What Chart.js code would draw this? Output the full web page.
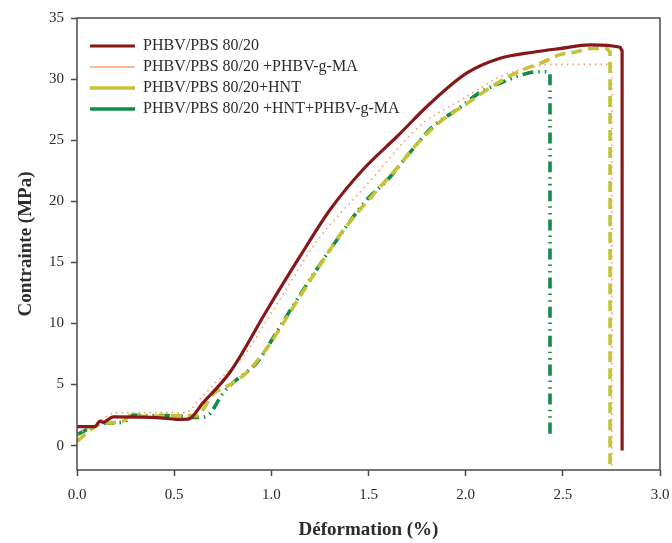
<!DOCTYPE html>
<html>
<head>
<meta charset="utf-8">
<script src="https://cdn.jsdelivr.net/npm/chart.js@4.4.1/dist/chart.umd.min.js"></script>
<style>
  html, body { margin: 0; padding: 0; background: #fff; }
  #wrap { width: 672px; height: 543px; }
</style>
</head>
<body>
<div id="wrap"><canvas id="chart"></canvas></div>
<script>
// series names (legend)
const seriesNames = [
  'PHBV/PBS 80/20',
  'PHBV/PBS 80/20 +PHBV-g-MA',
  'PHBV/PBS 80/20+HNT',
  'PHBV/PBS 80/20 +HNT+PHBV-g-MA'
];

// PHBV/PBS 80/20
const strainA = [0, 0.093, 0.118, 0.135, 0.187, 0.43, 0.51, 0.573, 0.648, 0.787, 0.978, 1.148, 1.302, 1.472, 1.647, 1.817, 2.007, 2.177, 2.347, 2.486, 2.64, 2.795, 2.805, 2.805];
const stressA = [1.55, 1.55, 2.0, 1.9, 2.35, 2.27, 2.15, 2.17, 3.5, 6.0, 11.1, 15.5, 19.3, 22.6, 25.3, 28.0, 30.5, 31.7, 32.2, 32.5, 32.8, 32.6, 32.3, -0.4];

// PHBV/PBS 80/20 +PHBV-g-MA
const strainB = [0, 0.1, 0.2, 0.56, 0.62, 0.71, 0.855, 0.978, 1.096, 1.215, 1.354, 1.42, 1.56, 1.678, 1.781, 1.955, 2.08, 2.177, 2.347, 2.43, 2.73, 2.752, 2.752];
const stressB = [0.9, 1.8, 2.7, 2.7, 3.6, 5.1, 7.3, 10.3, 13.3, 16.3, 19.0, 20.1, 22.6, 24.8, 26.4, 28.1, 29.3, 30.2, 31.0, 31.2, 31.2, 31.0, -2];

// PHBV/PBS 80/20+HNT
const strainC = [0, 0.084, 0.127, 0.238, 0.28, 0.33, 0.547, 0.616, 0.70, 0.80, 0.875, 0.983, 1.08, 1.179, 1.276, 1.374, 1.544, 1.652, 1.755, 1.884, 2.007, 2.136, 2.27, 2.40, 2.486, 2.563, 2.64, 2.728, 2.743, 2.743];
const stressC = [0.35, 1.45, 1.8, 2.0, 2.5, 2.4, 2.45, 2.45, 4.2, 5.1, 6.0, 8.1, 10.5, 13.0, 15.4, 17.7, 20.9, 22.8, 24.8, 26.7, 28.0, 29.4, 30.6, 31.4, 32.0, 32.2, 32.5, 32.5, 32.2, -2];

// PHBV/PBS 80/20 +HNT+PHBV-g-MA
const strainD = [0, 0.05, 0.1, 0.153, 0.238, 0.29, 0.33, 0.46, 0.53, 0.616, 0.667, 0.752, 0.80, 0.926, 1.024, 1.122, 1.22, 1.318, 1.49, 1.595, 1.714, 1.83, 1.955, 2.074, 2.213, 2.3, 2.37, 2.42, 2.434, 2.434];
const stressD = [0.9, 1.3, 1.7, 1.85, 1.9, 2.5, 2.45, 2.45, 2.4, 2.3, 2.4, 4.3, 5.1, 6.8, 9.2, 11.7, 14.1, 16.4, 20.1, 21.7, 24.0, 26.1, 27.5, 28.9, 29.9, 30.4, 30.6, 30.6, 30.4, 0.6];

// axis ticks
const xTickValues = [0, 0.5, 1.0, 1.5, 2.0, 2.5, 3.0];
const xTickLabels = ['0.0', '0.5', '1.0', '1.5', '2.0', '2.5', '3.0'];
const yTickValues = [0, 5, 10, 15, 20, 25, 30, 35];
const yTickLabels = ['0', '5', '10', '15', '20', '25', '30', '35'];

const toPoints = (xs, ys) => xs.map((x, i) => ({ x: x, y: ys[i] }));

const serif = "'Liberation Serif', 'Times New Roman', serif";
const textColor = '#2b2b2b';
const axisColor = '#4a4a4a';

// box around the plot area
const framePlugin = {
  id: 'frame',
  afterDraw(chart) {
    const a = chart.chartArea;
    const ctx = chart.ctx;
    ctx.save();
    ctx.strokeStyle = axisColor;
    ctx.lineWidth = 1.5;
    ctx.strokeRect(a.left, a.top, a.right - a.left, a.bottom - a.top);
    ctx.restore();
  }
};

// nudge the in-plot legend away from the corner
const legendShift = {
  id: 'legendShift',
  afterLayout(chart) {
    chart.legend.left += 8;
    chart.legend.top += 33;
  }
};

const ctx = document.getElementById('chart').getContext('2d');
new Chart(ctx, {
  type: 'line',
  data: {
    datasets: [
      {
        label: seriesNames[0],
        data: toPoints(strainA, stressA),
        borderColor: '#861818',
        borderWidth: 3.2,
        pointStyle: 'line'
      },
      {
        label: seriesNames[1],
        data: toPoints(strainB, stressB),
        borderColor: '#F4A26E',
        borderWidth: 1.6,
        borderDash: [1.6, 4],
        pointStyle: 'line'
      },
      {
        label: seriesNames[2],
        data: toPoints(strainC, stressC),
        borderColor: '#C4C236',
        borderWidth: 3.6,
        borderDash: [11, 6],
        pointStyle: 'line'
      },
      {
        label: seriesNames[3],
        data: toPoints(strainD, stressD),
        borderColor: '#148A48',
        borderWidth: 3.6,
        borderDash: [11, 5, 1.5, 5, 1.5, 5],
        pointStyle: 'line'
      }
    ]
  },
  options: {
    responsive: true,
    maintainAspectRatio: false,
    animation: false,
    layout: { padding: { top: 18, right: 12, left: 0, bottom: 0 } },
    elements: {
      point: { radius: 0, hoverRadius: 0 },
      line: { cubicInterpolationMode: 'monotone', fill: false }
    },
    plugins: {
      tooltip: { enabled: false },
      legend: {
        position: 'chartArea',
        align: 'start',
        labels: {
          usePointStyle: true,
          pointStyleWidth: 45,
          padding: 5,
          color: textColor,
          font: { family: serif, size: 16 }
        }
      }
    },
    scales: {
      x: {
        type: 'linear',
        min: 0,
        max: 3,
        afterBuildTicks: (axis) => { axis.ticks = xTickValues.map(v => ({ value: v })); },
        afterFit: (axis) => {
          axis.height = 73;
          axis.paddingLeft = 0;
          axis.paddingRight = 0;
        },
        ticks: {
          color: textColor,
          padding: 10,
          font: { family: serif, size: 15 },
          callback: (value) => xTickLabels[xTickValues.indexOf(value)]
        },
        grid: { drawOnChartArea: false, drawTicks: true, tickLength: 6, tickColor: axisColor, tickWidth: 1.5 },
        border: { display: false },
        title: {
          display: true,
          text: 'Déformation (%)',
          color: textColor,
          padding: { top: 0, bottom: 2 },
          font: { family: serif, size: 19, weight: 'bold' }
        }
      },
      y: {
        min: -2,
        max: 35,
        afterBuildTicks: (axis) => { axis.ticks = yTickValues.map(v => ({ value: v })); },
        afterFit: (axis) => {
          axis.width = 77;
          axis.paddingTop = 0;
          axis.paddingBottom = 0;
        },
        ticks: {
          color: textColor,
          padding: 7,
          font: { family: serif, size: 15 },
          callback: (value) => yTickLabels[yTickValues.indexOf(value)]
        },
        grid: { drawOnChartArea: false, drawTicks: true, tickLength: 6, tickColor: axisColor, tickWidth: 1.5 },
        border: { display: false },
        title: {
          display: true,
          text: 'Contrainte (MPa)',
          color: textColor,
          padding: { top: 15, bottom: 0 },
          font: { family: serif, size: 19, weight: 'bold' }
        }
      }
    }
  },
  plugins: [framePlugin, legendShift]
});
</script>
</body>
</html>
